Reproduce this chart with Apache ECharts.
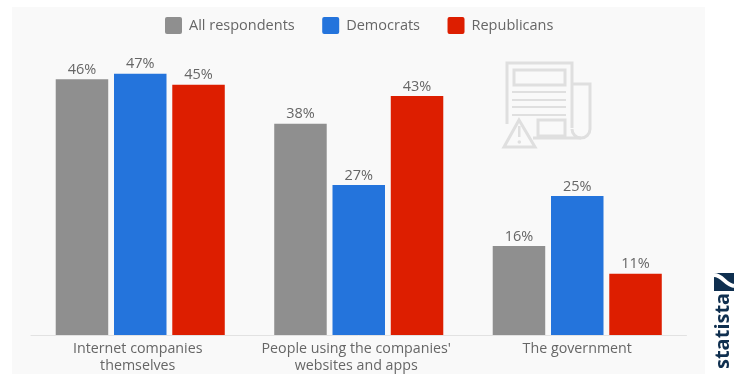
<!DOCTYPE html>
<html>
<head>
<meta charset="utf-8">
<style>html,body{margin:0;padding:0;background:#fff}#chart{width:748px;height:374px}</style>
<script src="https://cdn.jsdelivr.net/npm/echarts@6/dist/echarts.min.js"></script>
</head>
<body>
<div id="chart"></div>
<script>
const categories = ['Internet companies\nthemselves', "People using the companies'\nwebsites and apps", 'The government'];
const allRespondents = [46, 38, 16];
const democrats = [47, 27, 25];
const republicans = [45, 43, 11];
const GREY = '#8f8f8f', BLUE = '#2474dc', RED = '#dd1e00';
const ICON = '#dfdfdf', FONT = '"Open Sans", sans-serif';
const SWATCH = 'path://M2 0H15Q17 0 17 2V15Q17 17 15 17H2Q0 17 0 15V2Q0 0 2 0Z';

function barSeries(name, values, color) {
  return {
    name, type: 'bar', data: values, barWidth: 52.5, barGap: '11%',
    itemStyle: { color },
    label: { show: true, position: 'top', distance: 2, formatter: '{c}%', color: '#666', fontFamily: FONT, fontSize: 14.5 }
  };
}

// Outlined shapes of the newspaper pictogram
const line = { stroke: ICON, lineWidth: 3, fill: null };
const bar = { stroke: null, fill: ICON };
const pictogram = [
  { type: 'polyline', shape: { points: [[507, 124], [507, 63], [572, 63], [572, 128]] }, style: line },
  { type: 'polyline', shape: { points: [[533, 138], [581, 138]] }, style: line },
  { type: 'rect', shape: { x: 514, y: 70, width: 51, height: 15 }, style: line },
  { type: 'rect', shape: { x: 512, y: 91, width: 54, height: 2 }, style: bar },
  { type: 'rect', shape: { x: 512, y: 99, width: 54, height: 2 }, style: bar },
  { type: 'rect', shape: { x: 512, y: 106, width: 54, height: 2 }, style: bar },
  { type: 'rect', shape: { x: 512, y: 114, width: 54, height: 2 }, style: bar },
  { type: 'rect', shape: { x: 538, y: 120, width: 27, height: 16 }, style: line },
  { type: 'polyline', shape: { points: [[572, 84], [590, 84], [590, 129]] }, style: line },
  { type: 'arc', shape: { cx: 581, cy: 129, r: 9, startAngle: 0, endAngle: Math.PI }, style: line },
  { type: 'polygon', shape: { points: [[519, 120], [504, 147], [535, 147]] }, style: Object.assign({}, line, { fill: '#f9f9f9' }) },
  { type: 'rect', shape: { x: 518, y: 126, width: 2.5, height: 11 }, style: bar },
  { type: 'circle', shape: { cx: 519.3, cy: 142, r: 1.8 }, style: bar }
];

const chart = echarts.init(document.getElementById('chart'), null, { renderer: 'canvas' });
chart.setOption({
  backgroundColor: '#ffffff',
  animation: false,
  textStyle: { fontFamily: FONT },
  grid: { left: 31, right: 61.5, top: 57, height: 278, outerBoundsMode: 'none' },
  legend: {
    top: 12, left: 160, itemWidth: 17, itemHeight: 17, itemGap: 27.5, icon: SWATCH,
    textStyle: { color: '#666', fontFamily: FONT, fontSize: 14.5, padding: [0, 0, 0, 2] },
    data: ['All respondents', 'Democrats', 'Republicans']
  },
  xAxis: {
    type: 'category',
    data: categories.map((value, i) => ({ value, textStyle: { padding: [0, i < 2 ? 5 : 0, 0, 0] } })),
    axisLine: { lineStyle: { color: '#e2e2e2', width: 1 } }, axisTick: { show: false },
    axisLabel: { color: '#666', fontFamily: FONT, fontSize: 14.25, lineHeight: 17.5, margin: 5, interval: 0 }
  },
  yAxis: { type: 'value', min: 0, max: 50, show: false, splitLine: { show: false } },
  series: [
    barSeries('All respondents', allRespondents, GREY),
    barSeries('Democrats', democrats, BLUE),
    barSeries('Republicans', republicans, RED)
  ],
  graphic: [
    { type: 'rect', z: -10, silent: true, shape: { x: 12, y: 7, width: 693, height: 367 }, style: { fill: '#f9f9f9' } },
    { type: 'group', z: -5, silent: true, children: pictogram },
    { type: 'rect', shape: { x: 714, y: 273, width: 20, height: 18 }, style: { fill: '#0f2f4f' } },
    { type: 'bezierCurve', shape: { x1: 714, y1: 275, cpx1: 723, cpy1: 275, cpx2: 725, cpy2: 285, x2: 734, y2: 286 }, style: { stroke: '#ffffff', lineWidth: 4, fill: null } },
    {
      type: 'text', x: 733, y: 369, rotation: Math.PI / 2,
      style: { text: 'statista', fill: '#0f2f4f', font: 'bold 20px "Open Sans", sans-serif', textAlign: 'left', textVerticalAlign: 'bottom' }
    }
  ]
});
</script>
</body>
</html>
